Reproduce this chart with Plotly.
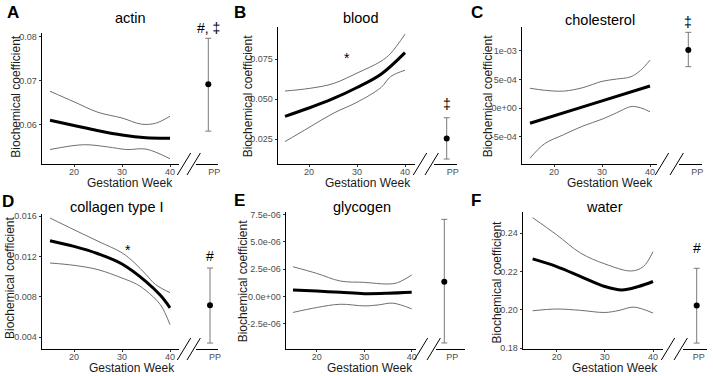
import plotly.graph_objects as go

# ---------------- data ----------------
titles = ["actin", "blood", "cholesterol", "collagen type I", "glycogen", "water"]
letters = ["A", "B", "C", "D", "E", "F"]
x_tick_vals = [20, 30, 40]
pp_label = "PP"

# A: actin
A_fit_wk = [15, 20, 25, 30, 35, 40]
A_fit = [0.0610, 0.0598, 0.0586, 0.0576, 0.0570, 0.0569]
A_up_wk = [15, 20, 25, 30, 34, 37, 40]
A_up = [0.0676, 0.0652, 0.0628, 0.0615, 0.0601, 0.0603, 0.0619]
A_lo_wk = [15, 22, 27, 31, 35, 40]
A_lo = [0.0543, 0.0554, 0.0549, 0.0543, 0.0544, 0.0522]
A_pp = [0.0692, 0.0585, 0.0797]  # mean, low, high
A_yticks = [0.06, 0.07, 0.08]
A_yticktext = ["0.06", "0.07", "0.08"]

# B: blood
B_fit_wk = [15, 20, 25, 30, 35, 40]
B_fit = [0.0392, 0.0444, 0.0502, 0.0572, 0.0655, 0.0790]
B_up_wk = [15, 20, 25, 30, 35, 37, 40]
B_up = [0.0550, 0.0566, 0.0596, 0.0662, 0.0736, 0.0785, 0.0905]
B_lo_wk = [15, 20, 25, 30, 35, 37, 40]
B_lo = [0.0234, 0.0322, 0.0410, 0.0480, 0.0572, 0.0640, 0.0680]
B_pp = [0.0254, 0.0125, 0.0383]
B_yticks = [0.025, 0.050, 0.075]
B_yticktext = ["0.025", "0.050", "0.075"]

# C: cholesterol
C_fit_wk = [15, 27.5, 40]
C_fit = [-2.6e-4, 0.65e-4, 3.9e-4]
C_up_wk = [15, 18, 22, 26, 30, 33, 36, 38, 40]
C_up = [3.5e-4, 3.15e-4, 3.0e-4, 3.6e-4, 4.7e-4, 5.1e-4, 5.5e-4, 6.6e-4, 8.4e-4]
C_lo_wk = [15, 18, 22, 26, 30, 33, 36, 38, 40]
C_lo = [-8.7e-4, -6.2e-4, -4.6e-4, -3.1e-4, -1.9e-4, -0.8e-4, 0.3e-4, 0.1e-4, -0.6e-4]
C_pp = [1.017e-3, 0.726e-3, 1.325e-3]
C_yticks = [-5e-4, 0.0, 5e-4, 1e-3]
C_yticktext = ["-5e-04", "0e+00", "5e-04", "1e-03"]

# D: collagen type I
D_fit_wk = [15, 20, 25, 30, 35, 38, 40]
D_fit = [0.01355, 0.01299, 0.01226, 0.01124, 0.0095, 0.00813, 0.0069]
D_up_wk = [15, 20, 25, 30, 32.5, 35, 37, 40]
D_up = [0.0158, 0.01464, 0.0135, 0.01235, 0.0114, 0.0102, 0.0092, 0.0084]
D_lo_wk = [15, 20, 25, 30, 33, 35, 38, 40]
D_lo = [0.01134, 0.01111, 0.01068, 0.00985, 0.00925, 0.0086, 0.0072, 0.00522]
D_pp = [0.00714, 0.0034, 0.01084]
D_yticks = [0.004, 0.008, 0.012, 0.016]
D_yticktext = ["0.004", "0.008", "0.012", "0.016"]

# E: glycogen
E_fit_wk = [15, 20, 25, 30, 35, 40]
E_fit = [0.61e-6, 0.50e-6, 0.39e-6, 0.27e-6, 0.30e-6, 0.39e-6]
E_up_wk = [15, 20, 25, 30, 35, 37, 40]
E_up = [2.73e-6, 2.12e-6, 1.42e-6, 1.30e-6, 1.15e-6, 1.27e-6, 1.97e-6]
E_lo_wk = [15, 20, 25, 30, 33, 36, 40]
E_lo = [-1.45e-6, -1.0e-6, -0.7e-6, -0.85e-6, -0.76e-6, -0.6e-6, -1.12e-6]
E_pp = [1.36e-6, -4.24e-6, 7.06e-6]
E_yticks = [-2.5e-6, 0.0, 2.5e-6, 5.0e-6, 7.5e-6]
E_yticktext = ["-2.5e-06", "0.0e+00", "2.5e-06", "5.0e-06", "7.5e-06"]

# F: water
F_fit_wk = [15, 20, 25, 30, 33.5, 37, 40]
F_fit = [0.2266, 0.2226, 0.2174, 0.2122, 0.2104, 0.2122, 0.2148]
F_up_wk = [15, 20, 25, 30, 35.5, 38, 40]
F_up = [0.2482, 0.2392, 0.2296, 0.2240, 0.2203, 0.2226, 0.2304]
F_lo_wk = [15, 20, 25, 30, 33, 36, 40]
F_lo = [0.1995, 0.2004, 0.1997, 0.1986, 0.1997, 0.2014, 0.1983]
F_pp = [0.2023, 0.1826, 0.2217]
F_yticks = [0.18, 0.20, 0.22, 0.24]
F_yticktext = ["0.18", "0.20", "0.22", "0.24"]

# significance marks: (panel index, axis "main"/"pp", x, y, text)
sig_marks = [
    (0, "pp", "PP", 0.0821, "#, ‡"),
    (1, "main", 27.9, 0.0754, "*"),
    (1, "pp", "PP", 0.0469, "‡"),
    (2, "pp", "PP", 1.51e-3, "‡"),
    (3, "main", 31.3, 0.01266, "*"),
    (3, "pp", "PP", 0.0120, "#"),
    (5, "pp", "PP", 0.2325, "#"),
]

series = [
    (A_fit_wk, A_fit, A_up_wk, A_up, A_lo_wk, A_lo, A_pp, A_yticks, A_yticktext),
    (B_fit_wk, B_fit, B_up_wk, B_up, B_lo_wk, B_lo, B_pp, B_yticks, B_yticktext),
    (C_fit_wk, C_fit, C_up_wk, C_up, C_lo_wk, C_lo, C_pp, C_yticks, C_yticktext),
    (D_fit_wk, D_fit, D_up_wk, D_up, D_lo_wk, D_lo, D_pp, D_yticks, D_yticktext),
    (E_fit_wk, E_fit, E_up_wk, E_up, E_lo_wk, E_lo, E_pp, E_yticks, E_yticktext),
    (F_fit_wk, F_fit, F_up_wk, F_up, F_lo_wk, F_lo, F_pp, F_yticks, F_yticktext),
]

# ---------------- layout geometry (pixels) ----------------
W, H = 713, 376
# yaxis_x, main_end, pp_start, pp_end, dot_x, top, bottom, px20, px40, ylo, yhi, labelshift
geom = [
    (41.7, 179, 196, 218, 208.3, 33, 164, 74, 170, 0.0510, 0.0809, 6),
    (277.7, 415, 434, 457, 446.7, 27, 164, 309, 405, 0.0094, 0.0950, 6),
    (521.7, 657, 679, 702, 688.3, 27, 164, 554, 650, -9.71e-4, 1.418e-3, 9),
    (41.7, 179, 196, 218, 210, 214, 349, 74, 170, 0.00281, 0.0162, 5),
    (285.7, 416, 436, 465, 444.3, 212, 349, 316.7, 411.7, -4.79e-6, 7.73e-6, 8),
    (522.7, 663, 683, 706.7, 696.7, 211.7, 349, 556.7, 653, 0.1795, 0.2513, 2),
]
title_pos = [(130, 18), (360.7, 18), (600, 20), (116.7, 206.7), (361.7, 206.7), (604, 206.7)]
letter_pos = [(12.5, 13), (240, 13), (476.7, 13), (8.3, 201.7), (239, 201), (476, 201)]
xtitle_pos = [(130, 183.5), (367.5, 183.5), (610.4, 183.5), (131.7, 368.3), (370.3, 368.3), (615.2, 368.3)]
ytitle_pos = [(15.7, 96), (248.3, 96), (488.3, 96), (10, 278), (243.3, 281), (496.7, 281.7)]

FONT = "Liberation Sans, Arial, sans-serif"


def fx(px):
    return px / W


def fy(py):
    return 1 - py / H


fig = go.Figure()
layout = dict(
    width=W, height=H, margin=dict(l=0, r=0, t=0, b=0, autoexpand=False),
    paper_bgcolor="white", plot_bgcolor="white", showlegend=False,
    font=dict(family=FONT, color="black"),
)
annotations = []
shapes = []

for i, (fwk, fv, uwk, uv, lwk, lv, pp, yt, ytt) in enumerate(series):
    yax_x, main_end, pp_s, pp_e, dot_x, top, bot, p20, p40, ylo, yhi, lshift = geom[i]
    mx = i + 1
    px_ = i + 7
    xm = f"x{mx}" if mx > 1 else "x"
    ym = f"y{mx}" if mx > 1 else "y"
    xp = f"x{px_}"
    s = (p40 - p20) / 20.0
    xr = [20 + (yax_x - p20) / s, 20 + (main_end - p20) / s]
    ppw = pp_e - pp_s
    ppr = [-(dot_x - pp_s) / ppw, (pp_e - dot_x) / ppw]

    layout[f"xaxis{mx}"] = dict(
        domain=[fx(yax_x), fx(main_end)], range=xr, anchor=ym, automargin=False,
        showline=True, linecolor="black", linewidth=1.3, showgrid=False, zeroline=False,
        tickvals=x_tick_vals, ticks="outside", ticklen=2, tickcolor="#333333", tickwidth=1,
        ticklabelstandoff=-3,
        tickfont=dict(size=9, color="#4d4d4d", family=FONT),
    )
    layout[f"xaxis{px_}"] = dict(
        domain=[fx(pp_s), fx(pp_e)], range=ppr, anchor=ym, type="category", automargin=False,
        showline=True, linecolor="black", linewidth=1.3, showgrid=False, zeroline=False,
        ticks="outside", ticklen=2, tickcolor="rgba(0,0,0,0)", ticklabelshift=lshift,
        ticklabelstandoff=-3,
        tickfont=dict(size=9, color="#4d4d4d", family=FONT),
    )
    layout[f"yaxis{mx}"] = dict(
        domain=[fy(bot), fy(top)], range=[ylo, yhi], anchor=xm, automargin=False,
        showline=True, linecolor="black", linewidth=1.3, showgrid=False, zeroline=False,
        tickvals=yt, ticktext=ytt, ticks="outside", ticklen=2, tickcolor="#333333", tickwidth=1,
        tickfont=dict(size=9, color="#4d4d4d", family=FONT),
    )

    gray = "#6f6f6f"
    fig.add_trace(go.Scatter(x=uwk, y=uv, mode="lines", line=dict(color=gray, width=1, shape="spline"),
                             xaxis=xm, yaxis=ym, hoverinfo="skip"))
    fig.add_trace(go.Scatter(x=lwk, y=lv, mode="lines", line=dict(color=gray, width=1, shape="spline"),
                             xaxis=xm, yaxis=ym, hoverinfo="skip"))
    fig.add_trace(go.Scatter(x=fwk, y=fv, mode="lines", line=dict(color="black", width=3, shape="spline"),
                             xaxis=xm, yaxis=ym))
    mean, low, high = pp
    fig.add_trace(go.Scatter(
        x=[pp_label], y=[mean], mode="markers", marker=dict(color="black", size=6),
        error_y=dict(type="data", array=[high - mean], arrayminus=[mean - low],
                     color="#7a7a7a", thickness=1, width=3),
        xaxis=xp, yaxis=ym, cliponaxis=False))

    # axis break marks
    for cx in (main_end + 5, pp_s - 2.3):
        shapes.append(dict(type="line", xref="paper", yref="paper",
                           x0=fx(cx - 6.7), y0=fy(bot + 11), x1=fx(cx + 6.7), y1=fy(bot - 11),
                           line=dict(color="black", width=1)))

    tx, ty = title_pos[i]
    annotations.append(dict(text=titles[i], x=fx(tx), y=fy(ty), xref="paper", yref="paper",
                            showarrow=False, xanchor="center", yanchor="middle",
                            font=dict(size=14.5, color="black", family=FONT)))
    lx, ly = letter_pos[i]
    annotations.append(dict(text=f"<b>{letters[i]}</b>", x=fx(lx), y=fy(ly), xref="paper", yref="paper",
                            showarrow=False, xanchor="center", yanchor="middle",
                            font=dict(size=17, color="black", family=FONT)))
    gx, gy = xtitle_pos[i]
    annotations.append(dict(text="Gestation Week", x=fx(gx), y=fy(gy), xref="paper", yref="paper",
                            showarrow=False, xanchor="center", yanchor="middle",
                            font=dict(size=12, color="#1a1a1a", family=FONT)))
    vx, vy = ytitle_pos[i]
    annotations.append(dict(text="Biochemical coefficient", x=fx(vx), y=fy(vy), xref="paper", yref="paper",
                            showarrow=False, xanchor="center", yanchor="middle", textangle=-90,
                            font=dict(size=12, color="#1a1a1a", family=FONT)))

for (pi, which, xv, yv, txt) in sig_marks:
    mx = pi + 1
    ylo, yhi = geom[pi][9], geom[pi][10]
    xa = (f"x{mx}" if mx > 1 else "x") if which == "main" else f"x{pi + 7}"
    ya = f"y{mx}" if mx > 1 else "y"
    annotations.append(dict(text=txt, x=xv, y=(yv - ylo) / (yhi - ylo), xref=xa, yref=f"{ya} domain",
                            showarrow=False, xanchor="center", yanchor="middle",
                            font=dict(size=14, color="black", family=FONT)))

layout["annotations"] = annotations
layout["shapes"] = shapes
fig.update_layout(**layout)
fig.write_html("out.html", config={"displayModeBar": False},
               post_script="document.body.style.margin='0px';document.body.style.padding='0px';")
